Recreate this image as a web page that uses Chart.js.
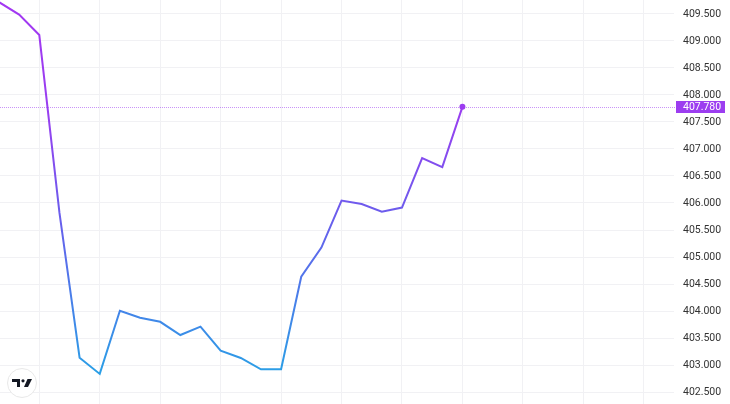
<!DOCTYPE html>
<html><head><meta charset="utf-8">
<script src="https://cdn.jsdelivr.net/npm/chart.js@4/dist/chart.umd.min.js"></script>
<style>html,body{margin:0;padding:0;background:#fff;overflow:hidden}#wrap{position:relative;width:730px;height:404px}</style>
</head><body><div id="wrap"><canvas id="c" width="730" height="404"></canvas></div>
<script>
// data
const pointIndex = [0,1,2,3,4,5,6,7,8,9,10,11,12,13,14,15,16,17,18,19,20,21,22,23];
const prices = [409.72,409.49,409.11,405.82,403.135,402.835,404.005,403.875,403.80,403.555,403.71,403.265,403.13,402.92,402.92,404.635,405.175,406.045,405.98,405.84,405.915,406.83,406.665,407.78];
const yTickValues = [402.5,403,403.5,404,404.5,405,405.5,406,406.5,407,407.5,408,408.5,409,409.5];
const xGridValues = [2,5,8,11,14,17,20,23,26,29,32];
const lastPrice = prices[prices.length-1];

const PURPLE = '#9c3df0';
const FONT = {family: 'Roboto, "Liberation Sans", sans-serif', size: 10.5};

const zeroPad = s => { s.paddingTop = 0; s.paddingBottom = 0; s.paddingLeft = 0; s.paddingRight = 0; };

const overlay = {
  id: 'overlay',
  afterDatasetsDraw(chart) {
    const {ctx, chartArea, scales} = chart;
    const y = Math.round(scales.y.getPixelForValue(lastPrice)) + 0.5;
    ctx.save();
    // dotted price line
    ctx.strokeStyle = 'rgba(156,61,240,0.55)';
    ctx.lineWidth = 1;
    ctx.setLineDash([1,1]);
    ctx.beginPath(); ctx.moveTo(chartArea.left, y); ctx.lineTo(chartArea.right + 2, y); ctx.stroke();
    ctx.setLineDash([]);
    // last price label box
    ctx.fillStyle = PURPLE;
    ctx.fillRect(chartArea.right + 2, y - 6.5, 49, 12);
    ctx.fillStyle = '#ffffff';
    ctx.font = FONT.size + 'px ' + FONT.family;
    ctx.textAlign = 'left'; ctx.textBaseline = 'middle';
    ctx.fillText(lastPrice.toFixed(3), chartArea.right + 9, y);
    // logo badge
    const cx = 22, cy = 383;
    ctx.beginPath(); ctx.arc(cx, cy, 14.5, 0, Math.PI*2);
    ctx.fillStyle = '#ffffff'; ctx.fill();
    ctx.strokeStyle = '#e8e8e8'; ctx.lineWidth = 1; ctx.stroke();
    ctx.fillStyle = '#131722';
    ctx.fillRect(cx-10, cy-4, 8, 3);
    ctx.fillRect(cx-5, cy-4, 3, 8);
    ctx.beginPath(); ctx.arc(cx+1, cy-2.2, 1.6, 0, Math.PI*2); ctx.fill();
    ctx.beginPath(); ctx.moveTo(cx+5.5, cy-4); ctx.lineTo(cx+10, cy-4); ctx.lineTo(cx+6, cy+4); ctx.lineTo(cx+2, cy+4); ctx.closePath(); ctx.fill();
    ctx.restore();
  }
};

new Chart(document.getElementById('c'), {
  type: 'line',
  data: {
    datasets: [{
      data: pointIndex.map((x,i) => ({x, y: prices[i]})),
      borderWidth: 2,
      borderColor(ctx) {
        const chart = ctx.chart; const {chartArea, scales} = chart;
        if (!chartArea) return PURPLE;
        const top = scales.y.getPixelForValue(Math.max(...prices));
        const bot = scales.y.getPixelForValue(Math.min(...prices));
        const g = chart.ctx.createLinearGradient(0, top, 0, bot);
        g.addColorStop(0, '#a337f2');
        g.addColorStop(0.3, '#983ff0');
        g.addColorStop(0.6, '#6660ec');
        g.addColorStop(1, '#2a9fe6');
        return g;
      },
      pointRadius: ctx => ctx.dataIndex === prices.length-1 ? 3 : 0,
      pointBackgroundColor: PURPLE,
      pointBorderWidth: 0,
      tension: 0,
      fill: false
    }]
  },
  options: {
    responsive: false, animation: false, devicePixelRatio: 1,
    layout: {padding: 0, autoPadding: false},
    plugins: {legend: {display: false}, tooltip: {enabled: false}},
    scales: {
      x: {
        type: 'linear', min: 0.05, max: 33.5,
        afterBuildTicks: s => { s.ticks = xGridValues.map(v => ({value: v})); },
        afterFit: s => { s.height = 0; zeroPad(s); },
        ticks: {display: false},
        grid: {color: '#f1f1f4', drawTicks: false},
        border: {display: false}
      },
      y: {
        position: 'right', min: 402.278, max: 409.759,
        afterBuildTicks: s => { s.ticks = yTickValues.map(v => ({value: v})); },
        afterFit: s => { s.width = 56; zeroPad(s); },
        ticks: {padding: 9, crossAlign: 'near', color: '#333333', font: FONT, callback: v => Number(v).toFixed(3)},
        grid: {color: '#f1f1f4', drawTicks: false},
        border: {display: false}
      }
    }
  },
  plugins: [overlay]
});
</script></body></html>
